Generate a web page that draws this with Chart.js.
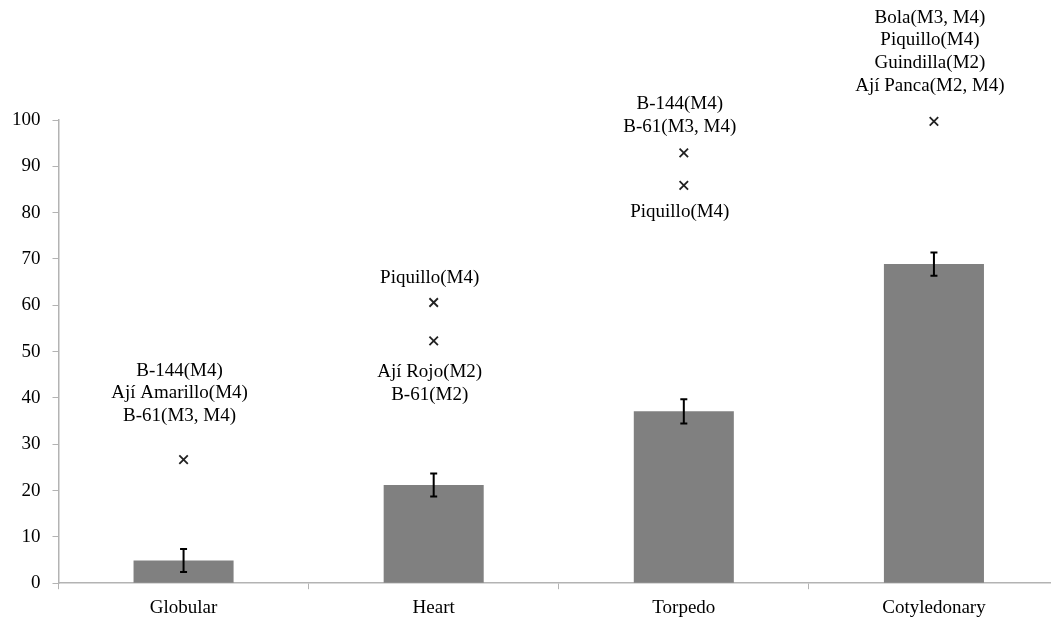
<!DOCTYPE html>
<html>
<head>
<meta charset="utf-8">
<script src="https://cdn.jsdelivr.net/npm/chart.js@4"></script>
<style>
  html, body { margin: 0; padding: 0; background: #fff; overflow: hidden; }
  #wrap { width: 1051px; height: 619px; overflow: hidden; }
</style>
</head>
<body>
<div id="wrap"><canvas id="chart" width="1070" height="626"></canvas></div>
<script>
// ---------- Data ----------
const stages = ["Globular", "Heart", "Torpedo", "Cotyledonary"];
const meanValues = [4.9, 21.2, 37.1, 68.9];
const errValues = [2.5, 2.5, 2.6, 2.5];

// "x" markers (cultivar values), by stage
const markerStages = ["Globular", "Heart", "Heart", "Torpedo", "Torpedo", "Cotyledonary"];
const markerValues = [26.7, 60.6, 52.3, 92.9, 85.9, 99.7];

// text notes: stage, value of first line, lines
const noteStages = ["Globular", "Heart", "Heart", "Torpedo", "Torpedo", "Cotyledonary"];
const noteValues = [45.9, 65.8, 45.5, 103.4, 80.1, 122.1];
const noteLines = [
  ["B-144(M4)", "Ají Amarillo(M4)", "B-61(M3, M4)"],
  ["Piquillo(M4)"],
  ["Ají Rojo(M2)", "B-61(M2)"],
  ["B-144(M4)", "B-61(M3, M4)"],
  ["Piquillo(M4)"],
  ["Bola(M3, M4)", "Piquillo(M4)", "Guindilla(M2)", "Ají Panca(M2, M4)"],
];

const yTicks = [0, 10, 20, 30, 40, 50, 60, 70, 80, 90, 100];

const FONT = "'Liberation Serif', 'Times New Roman', serif";
const AXIS_GRAY = "#b3b3b3";

// ---------- Plugins ----------
const errorBars = {
  id: "errorBars",
  afterDatasetsDraw(chart) {
    const { ctx, scales } = chart;
    const meta = chart.getDatasetMeta(0);
    ctx.save();
    ctx.strokeStyle = "#000";
    ctx.lineWidth = 2;
    meta.data.forEach((bar, i) => {
      const x = bar.x;
      const top = scales.y.getPixelForValue(meanValues[i] + errValues[i]);
      const bot = scales.y.getPixelForValue(meanValues[i] - errValues[i]);
      ctx.beginPath();
      ctx.moveTo(x, top); ctx.lineTo(x, bot);
      ctx.moveTo(x - 3.5, top); ctx.lineTo(x + 3.5, top);
      ctx.moveTo(x - 3.5, bot); ctx.lineTo(x + 3.5, bot);
      ctx.stroke();
    });
    ctx.restore();
  },
};

const notes = {
  id: "notes",
  afterDatasetsDraw(chart) {
    const { ctx, scales } = chart;
    const lineStep = scales.y.getPixelForValue(0) - scales.y.getPixelForValue(4.93);
    ctx.save();
    ctx.font = "19px " + FONT;
    ctx.fillStyle = "#000";
    ctx.textAlign = "center";
    ctx.textBaseline = "middle";
    noteLines.forEach((lines, i) => {
      const x = scales.x.getPixelForValue(stages.indexOf(noteStages[i])) - 4;
      const y0 = scales.y.getPixelForValue(noteValues[i]);
      lines.forEach((t, j) => ctx.fillText(t, x, y0 + j * lineStep));
    });
    ctx.restore();
  },
};

// ---------- Chart ----------
new Chart(document.getElementById("chart"), {
  data: {
    labels: stages,
    datasets: [
      {
        type: "bar",
        label: "Mean",
        data: meanValues,
        backgroundColor: "#808080",
        borderWidth: 0,
        barPercentage: 0.4,
        categoryPercentage: 1,
        order: 2,
      },
      {
        type: "line",
        label: "Cultivars",
        data: markerStages.map((s, i) => ({ x: s, y: markerValues[i] })),
        showLine: false,
        clip: false,
        pointStyle: "crossRot",
        pointRadius: 6,
        pointBorderWidth: 1.8,
        pointBorderColor: "#222",
        pointBackgroundColor: "#222",
        order: 1,
      },
    ],
  },
  options: {
    responsive: false,
    animation: false,
    layout: { padding: { top: 120, left: 0, right: 11, bottom: 0 } },
    plugins: { legend: { display: false }, tooltip: { enabled: false } },
    scales: {
      x: {
        type: "category",
        offset: true,
        grid: {
          offset: true,
          drawOnChartArea: false,
          drawTicks: true,
          tickLength: 6,
          color: AXIS_GRAY,
        },
        border: { color: AXIS_GRAY, width: 1.5 },
        ticks: { color: "#000", font: { family: FONT, size: 19 }, padding: 7, maxRotation: 0 },
      },
      y: {
        min: 0,
        max: 100,
        afterBuildTicks(scale) { scale.ticks = yTicks.map((v) => ({ value: v })); },
        grid: { drawOnChartArea: false, drawTicks: true, tickLength: 6, color: AXIS_GRAY },
        border: { color: AXIS_GRAY, width: 1.5 },
        ticks: { color: "#000", font: { family: FONT, size: 19 }, padding: 12 },
      },
    },
  },
  plugins: [errorBars, notes],
});
</script>
</body>
</html>
